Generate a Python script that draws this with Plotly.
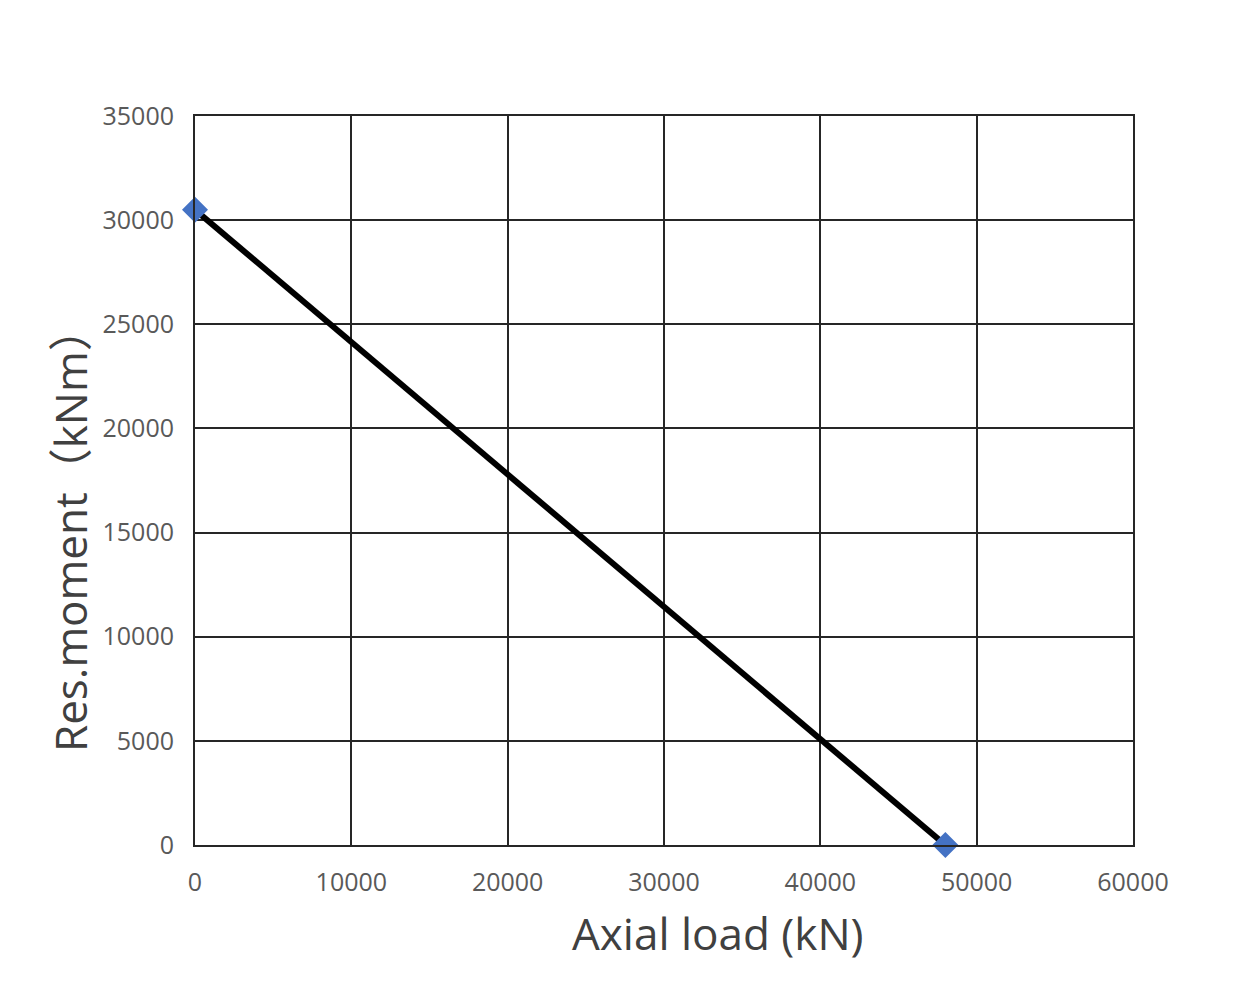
import plotly.graph_objects as go

axial_load = [0, 48000]
res_moment = [30500, 0]
x_ticks = [0, 10000, 20000, 30000, 40000, 50000, 60000]
y_ticks = [0, 5000, 10000, 15000, 20000, 25000, 30000, 35000]

fig = go.Figure()
fig.add_trace(go.Scatter(
    x=axial_load, y=res_moment, mode="lines+markers",
    line=dict(color="#000000", width=6),
    marker=dict(symbol="diamond", size=20, color="#4472C4"),
    showlegend=False, cliponaxis=False,
))

axis_common = dict(
    showgrid=True, gridcolor="#262626", gridwidth=2,
    showline=True, linecolor="#262626", linewidth=2, mirror=True,
    zeroline=False, ticks="",
    tickfont=dict(family="Open Sans", size=25, color="#595959"),
)
fig.update_xaxes(range=[0, 60000], tickvals=x_ticks, ticktext=[str(v) for v in x_ticks],
                 ticklabelstandoff=14, **axis_common)
fig.update_yaxes(range=[0, 35000], tickvals=y_ticks, ticktext=[str(v) for v in y_ticks],
                 ticklabelstandoff=14, **axis_common)

fig.add_annotation(text="Axial load (kN)", xref="paper", yref="paper",
                   x=(718 - 195) / 938, y=-(933 - 845) / 729, showarrow=False,
                   xanchor="center", yanchor="middle",
                   font=dict(family="Open Sans", size=44, color="#404040"))
fig.add_annotation(text="Res.moment（kNm）", xref="paper", yref="paper",
                   x=-(195 - 70) / 938, y=(845 - 530) / 729, showarrow=False,
                   xanchor="center", yanchor="middle", textangle=-90,
                   font=dict(family="Open Sans, Noto Sans CJK SC", size=44, color="#404040"))

fig.update_layout(
    width=1260, height=990,
    margin=dict(l=195, r=127, t=116, b=145),
    plot_bgcolor="white", paper_bgcolor="white",
)
fig.write_html("out.html")
